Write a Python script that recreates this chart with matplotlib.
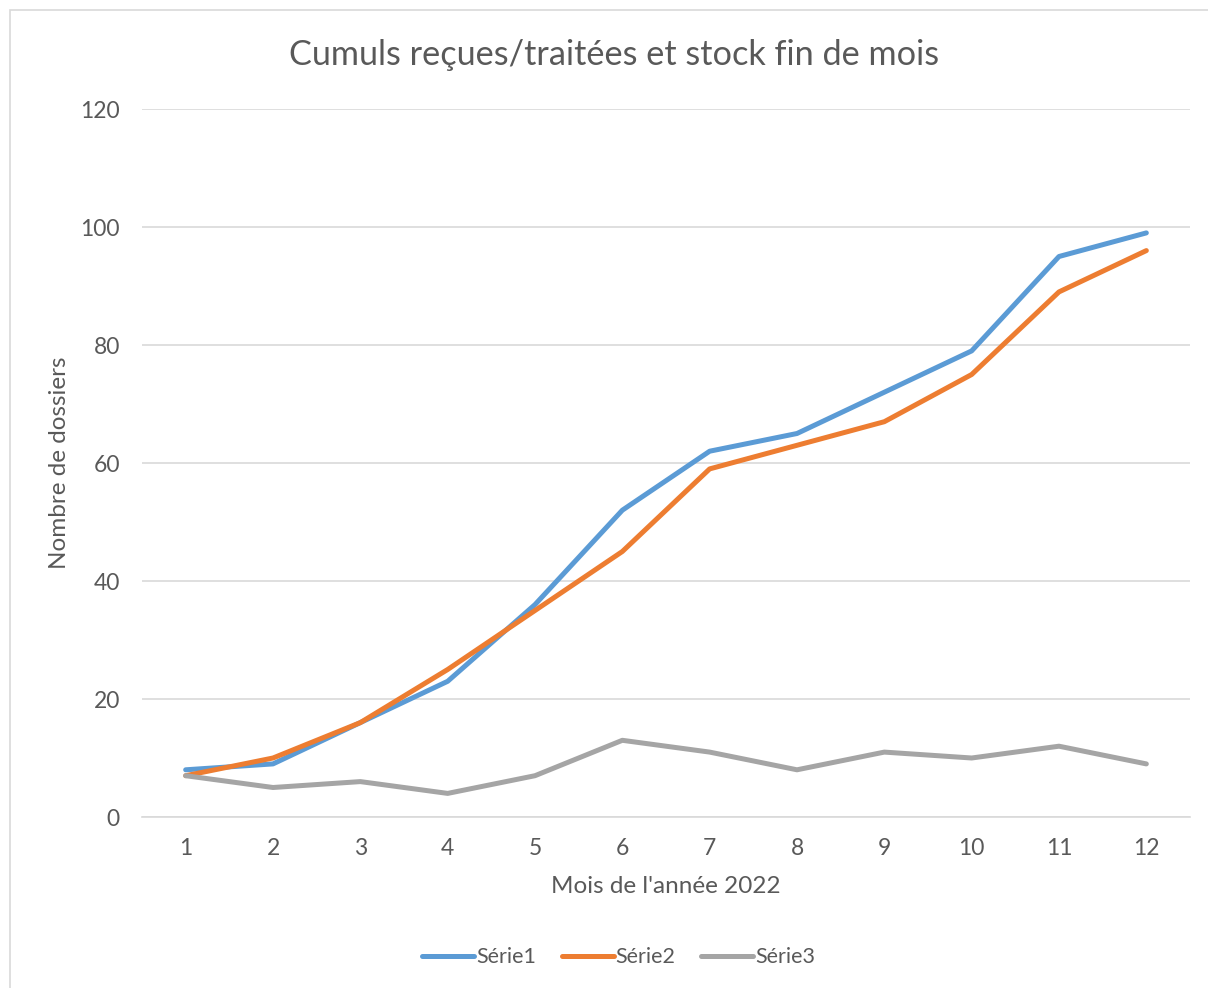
import matplotlib
matplotlib.use("Agg")
import matplotlib.pyplot as plt
from matplotlib.patches import Rectangle

plt.rcParams['font.family'] = ['Lato', 'DejaVu Sans']

# données
mois = [1, 2, 3, 4, 5, 6, 7, 8, 9, 10, 11, 12]
serie1 = [8, 9, 16, 23, 36, 52, 62, 65, 72, 79, 95, 99]
serie2 = [7, 10, 16, 25, 35, 45, 59, 63, 67, 75, 89, 96]
serie3 = [7, 5, 6, 4, 7, 13, 11, 8, 11, 10, 12, 9]
noms = ['Série1', 'Série2', 'Série3']
couleurs = ['#5B9BD5', '#ED7D31', '#A5A5A5']

gris_texte = '#595959'

fig = plt.figure(figsize=(12.08, 9.88), dpi=100)
ax = fig.add_axes([142 / 1208, 1 - 817 / 988, (1190 - 142) / 1208, (817 - 109) / 988])

# cadre de la zone de graphique
fig.patches.append(Rectangle((10 / 1208, -0.01), 1.2, 1 - 10 / 988 + 0.01,
                             transform=fig.transFigure, fill=False,
                             edgecolor='#D9D9D9', linewidth=1.2))

for vals, nom, c in zip([serie1, serie2, serie3], noms, couleurs):
    ax.plot(mois, vals, color=c, linewidth=3.6, label=nom, solid_capstyle='round', zorder=3)

ax.set_xlim(0.5, 12.5)
ax.set_ylim(0, 120)
ax.set_xticks(mois)
ax.set_yticks(range(0, 121, 20))
ax.grid(axis='y', color='#D9D9D9', linewidth=1.2)
ax.set_axisbelow(True)
for s in ['top', 'right', 'left']:
    ax.spines[s].set_visible(False)
ax.spines['bottom'].set_color('#D9D9D9')
ax.spines['bottom'].set_linewidth(1.2)
ax.tick_params(length=0, labelsize=16.5, labelcolor=gris_texte)
ax.tick_params(axis='x', pad=15)
ax.tick_params(axis='y', pad=16)

ax.set_xlabel("Mois de l'année 2022", fontsize=17.5, color=gris_texte, labelpad=12)
ax.set_ylabel('Nombre de dossiers', fontsize=17.5, color=gris_texte, labelpad=7)
fig.text(0.508, 1 - 55 / 988, 'Cumuls reçues/traitées et stock fin de mois',
         ha='center', va='center', fontsize=24.7, color=gris_texte)

leg = ax.legend(loc='center', bbox_to_anchor=(0.455, -0.198), ncol=3, frameon=False,
                fontsize=15.5, handlelength=2.4, handletextpad=0.1, columnspacing=1.2)
for t in leg.get_texts():
    t.set_color(gris_texte)

fig.savefig('out.png', dpi=100, facecolor='white')
